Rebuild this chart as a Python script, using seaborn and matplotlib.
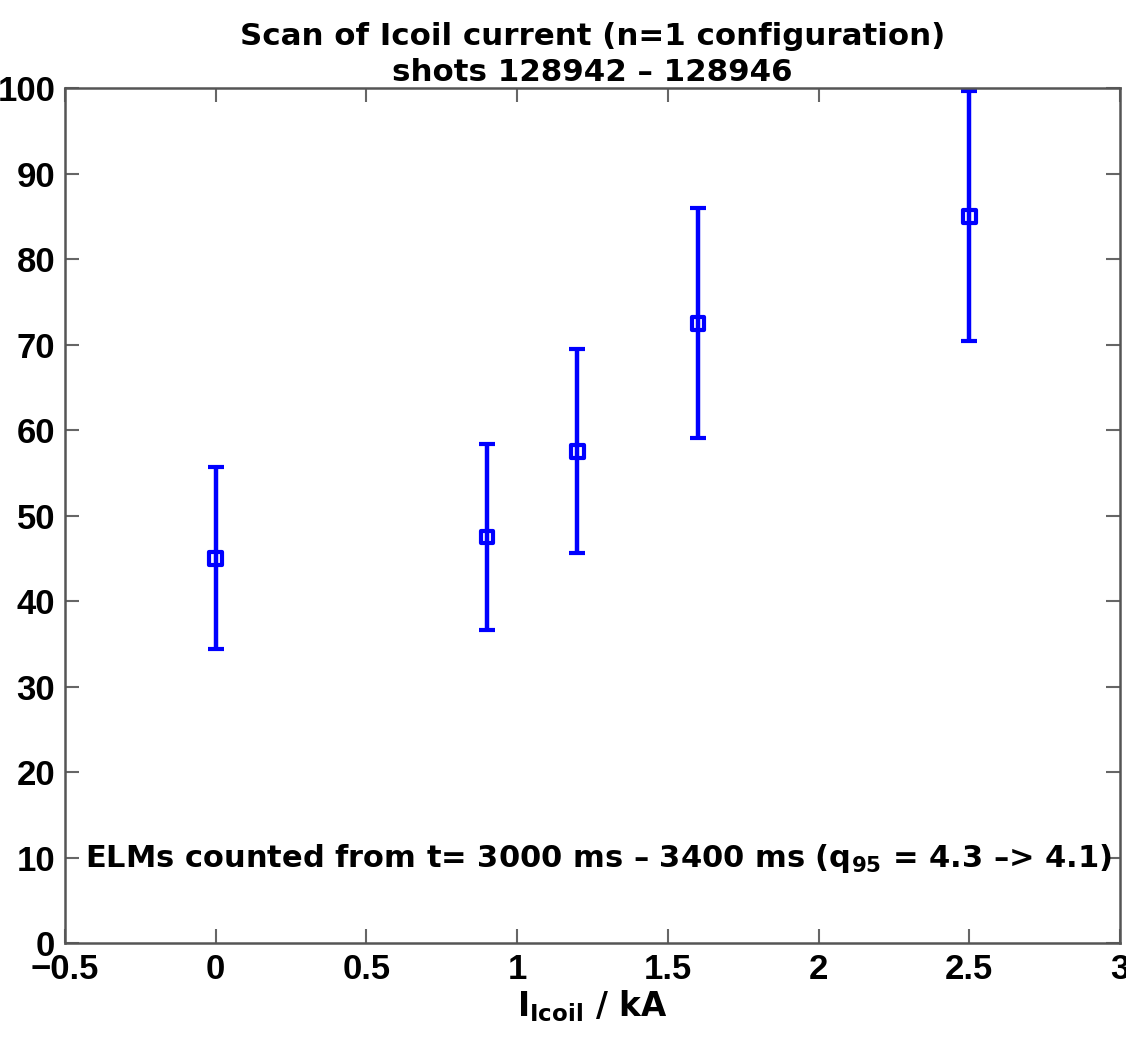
import matplotlib
matplotlib.use("Agg")
import matplotlib.pyplot as plt
import seaborn as sns
import pandas as pd
from matplotlib.ticker import FuncFormatter

# Data
icoil_kA = [0.0, 0.9, 1.2, 1.6, 2.5]
elm_count = [45.0, 47.5, 57.5, 72.5, 85.0]
err_low = [34.4, 36.6, 45.6, 59.1, 70.4]
err_high = [55.7, 58.4, 69.5, 86.0, 99.7]

x_ticks = [-0.5, 0, 0.5, 1, 1.5, 2, 2.5, 3]
y_ticks = [0, 10, 20, 30, 40, 50, 60, 70, 80, 90, 100]

title_text = "Scan of Icoil current (n=1 configuration)\nshots 128942 \u2013 128946"
note_text = "ELMs counted from t= 3000 ms \u2013 3400 ms (q$_{95}$ = 4.3 \u2013> 4.1)"
xlabel_text = r"I$_{\mathbf{Icoil}}$ / kA"

df = pd.DataFrame({"x": icoil_kA, "y": elm_count, "lo": err_low, "hi": err_high})

sns.set_style("white")
plt.rcParams['font.family'] = ['Liberation Sans', 'DejaVu Sans']
plt.rcParams['font.weight'] = 'bold'
plt.rcParams['text.color'] = 'black'
plt.rcParams['axes.labelcolor'] = 'black'
plt.rcParams['mathtext.fontset'] = 'custom'
plt.rcParams['mathtext.rm'] = 'DejaVu Sans:bold'
plt.rcParams['mathtext.bf'] = 'DejaVu Sans:bold'
plt.rcParams['mathtext.it'] = 'DejaVu Sans:bold'
plt.rcParams['mathtext.default'] = 'bf'

fig = plt.figure(figsize=(11.26, 10.37), dpi=100)
ax = fig.add_axes([0.0577, 0.0906, 0.9370, 0.8245])

blue = "#0000ff"
yerr = [[y - l for y, l in zip(df.y, df.lo)], [h - y for y, h in zip(df.y, df.hi)]]
ax.errorbar(df.x, df.y, yerr=yerr, fmt='none', ecolor=blue, elinewidth=3.2,
            capsize=6, capthick=3, zorder=2)
sns.scatterplot(data=df, x="x", y="y", ax=ax, marker='s', s=85,
                facecolor='none', edgecolor=blue, linewidth=3, zorder=3)

ax.set_xlim(-0.5, 3)
ax.set_ylim(0, 100)
ax.set_xticks(x_ticks)
ax.set_yticks(y_ticks)
ax.xaxis.set_major_formatter(FuncFormatter(lambda v, p: ('%g' % v).replace('-', '\u2212')))
ax.tick_params(direction='in', length=10, width=1.5, colors='#666666',
               labelcolor='black', labelsize=25, top=True, right=True,
               bottom=True, left=True, pad=7)
for lab in ax.get_xticklabels() + ax.get_yticklabels():
    lab.set_fontweight('bold')
for sp in ax.spines.values():
    sp.set_color('#555555')
    sp.set_linewidth(1.8)

ax.set_xlabel(xlabel_text, fontsize=23.5, fontweight='bold', labelpad=2,
              family='DejaVu Sans', color='black')
ax.set_ylabel("")
ax.set_title(title_text, fontsize=22.2, fontweight='bold', pad=5,
             linespacing=1.3, family='DejaVu Sans', color='black')

ax.text(-0.435, 8.9, note_text, fontsize=22.0, fontweight='bold',
        va='baseline', ha='left', family='DejaVu Sans', color='black')

fig.savefig("out.png", dpi=100)
